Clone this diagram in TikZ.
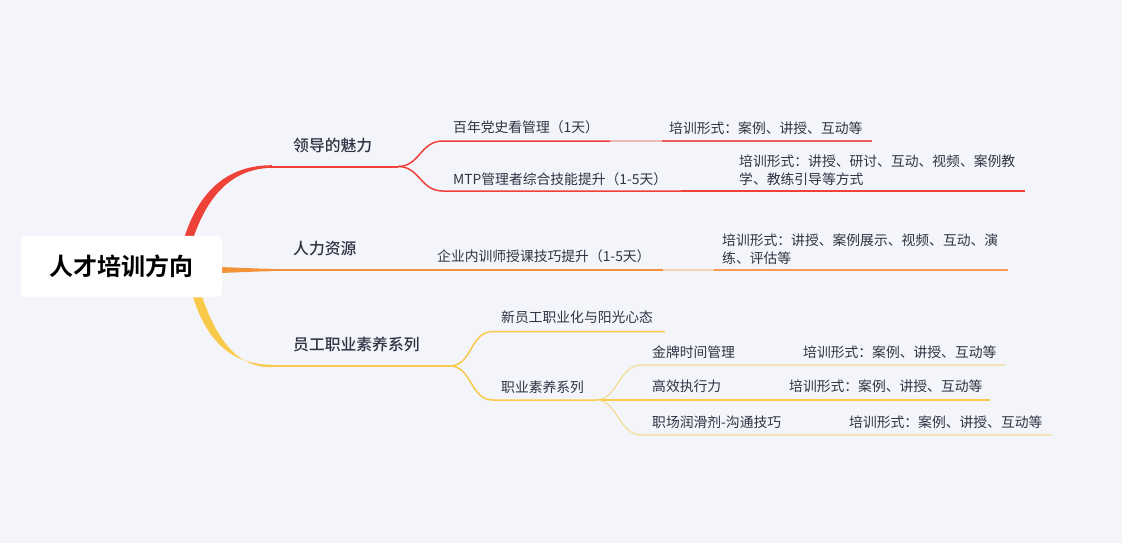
\documentclass[tikz,border=0pt]{standalone}
\usepackage{fontspec}
\usepackage{xcolor}
\usepackage{tikz}
\usetikzlibrary{positioning}
\newfontfamily\cjk{Noto Sans CJK SC}
\newfontfamily\cjkmid{Noto Sans CJK SC Medium}
\newfontfamily\cjkbold{Noto Sans CJK SC Bold}
\definecolor{pagebg}{HTML}{F4F5FA}
\definecolor{leadred}{HTML}{EE4239}
\definecolor{hrorange}{HTML}{F39238}
\definecolor{staffyel}{HTML}{F9C94A}
\definecolor{paleyel}{HTML}{F3DB8E}
\definecolor{inktext}{HTML}{2E3444}

\begin{document}
\begin{tikzpicture}[x=1pt, y=-1pt,
      font=\cjk\fontsize{13.8}{18}\selectfont,
      roottext/.style={fill=white, rounded corners=6pt, minimum width=201pt, minimum height=61.5pt,
                       font=\cjkbold\fontsize{24}{28}\selectfont, text=black},
      mainlbl/.style={anchor=west, inner sep=0pt, text=inktext, font=\cjkmid\fontsize{15.8}{20}\selectfont},
      leaf/.style={anchor=west, inner sep=0pt, text=inktext},
      form/.style={anchor=west, inner sep=0pt, text=inktext, align=left},
      trunk/.style={line width=2pt},
      twig/.style={line width=1.5pt},
      fade/.style={line width=1.5pt, opacity=0.35}]
    \useasboundingbox[fill=pagebg] (0,0) rectangle (1122,543);

    % branch points
    \coordinate (lead-end) at (272,166.5);
    \coordinate (lead-fork) at (398,166.5);
    \coordinate (c11-l) at (443,141);
    \coordinate (c11-r) at (610,141);
    \coordinate (f11-l) at (662,141);
    \coordinate (f11-r) at (872,141);
    \coordinate (c12-l) at (443,191);
    \coordinate (c12-r) at (681,191);
    \coordinate (f12-r) at (1025,191);
    \coordinate (hr-end) at (272,270);
    \coordinate (c21-r) at (663,270);
    \coordinate (f21-l) at (714,270);
    \coordinate (f21-r) at (1008,270);
    \coordinate (staff-end) at (272,366);
    \coordinate (staff-fork) at (450,366);
    \coordinate (c31-l) at (493,331.5);
    \coordinate (c31-r) at (665,331.5);
    \coordinate (c32-l) at (493,400);
    \coordinate (c32-r) at (596,400);
    \coordinate (d1-l) at (642,365);
    \coordinate (d1-r) at (1005,365);
    \coordinate (d2-r) at (990,400);
    \coordinate (d3-l) at (642,435);
    \coordinate (d3-r) at (1052,435);

    % tapered trunks out of the root
    \fill[leadred] (177,268) .. controls (189,199) and (221,165.2) .. (272,165.2)
      -- (272,167.8) .. controls (226,168.6) and (199,204) .. (185,268) -- cycle;
    \fill[hrorange] (200,266.5) .. controls (230,267) and (250,268.6) .. (272,268.8)
      -- (272,271.2) .. controls (250,271.5) and (230,273) .. (200,273.5) -- cycle;
    \fill[staffyel] (186,268) .. controls (196,322) and (218,364.8) .. (272,364.8)
      -- (272,367.2) .. controls (225,368) and (207,316) .. (193,268) -- cycle;

    \node[roottext] (root) at (121.5,266.5) {人才培训方向};

    % 领导的魅力
    \node[mainlbl] (lead) at (293,145.5) {领导的魅力};
    \draw[leadred, trunk] (lead-end) -- (lead-fork);
    \draw[leadred, twig] (lead-fork) .. controls (420,166.5) and (420,141) .. (c11-l) -- (c11-r);
    \draw[leadred, fade] (c11-r) -- (f11-l);
    \draw[leadred!85, twig] (f11-l) -- (f11-r);
    \draw[leadred, twig] (lead-fork) .. controls (420,166.5) and (420,191) .. (c12-l) -- (c12-r);
    \draw[leadred, twig] (c12-r) -- (f12-r);
    \node[leaf] (c11) at (453,127) {百年党史看管理（1天）};
    \node[form] (f11) at (669,128) {培训形式：案例、讲授、互动等};
    \node[leaf] (c12) at (453,179) {MTP管理者综合技能提升（1-5天）};
    \node[form] (f12) at (739,170) {培训形式：讲授、研讨、互动、视频、案例教\\学、教练引导等方式};

    % 人力资源
    \node[mainlbl] (hr) at (293,249) {人力资源};
    \draw[hrorange, trunk] (hr-end) -- (c21-r);
    \draw[hrorange, fade] (c21-r) -- (f21-l);
    \draw[hrorange!90, trunk] (f21-l) -- (f21-r);
    \node[leaf] (c21) at (437,256) {企业内训师授课技巧提升（1-5天）};
    \node[form] (f21) at (722,249) {培训形式：讲授、案例展示、视频、互动、演\\练、评估等};

    % 员工职业素养系列
    \node[mainlbl] (staff) at (293,344.5) {员工职业素养系列};
    \draw[staffyel, trunk] (staff-end) -- (staff-fork);
    \draw[staffyel, twig] (staff-fork) .. controls (472,366) and (470,331.5) .. (c31-l) -- (c31-r);
    \draw[staffyel, twig] (staff-fork) .. controls (472,366) and (470,400) .. (c32-l) -- (c32-r);
    \node[leaf] (c31) at (501,317) {新员工职业化与阳光心态};
    \node[leaf] (c32) at (501,387) {职业素养系列};
    \draw[paleyel, line width=1.1pt] (c32-r) .. controls (618,400) and (618,365) .. (d1-l) -- (d1-r);
    \draw[staffyel, line width=1.1pt] (c32-r) -- (d2-r);
    \draw[paleyel, line width=1.1pt] (c32-r) .. controls (618,400) and (618,435) .. (d3-l) -- (d3-r);
    \node[leaf] (d1) at (652,352) {金牌时间管理};
    \node[form] (g1) at (803,352) {培训形式：案例、讲授、互动等};
    \node[leaf] (d2) at (652,386) {高效执行力};
    \node[form] (g2) at (789,386) {培训形式：案例、讲授、互动等};
    \node[leaf] (d3) at (652,422) {职场润滑剂-沟通技巧};
    \node[form] (g3) at (849,422) {培训形式：案例、讲授、互动等};
  \end{tikzpicture}
\end{document}
